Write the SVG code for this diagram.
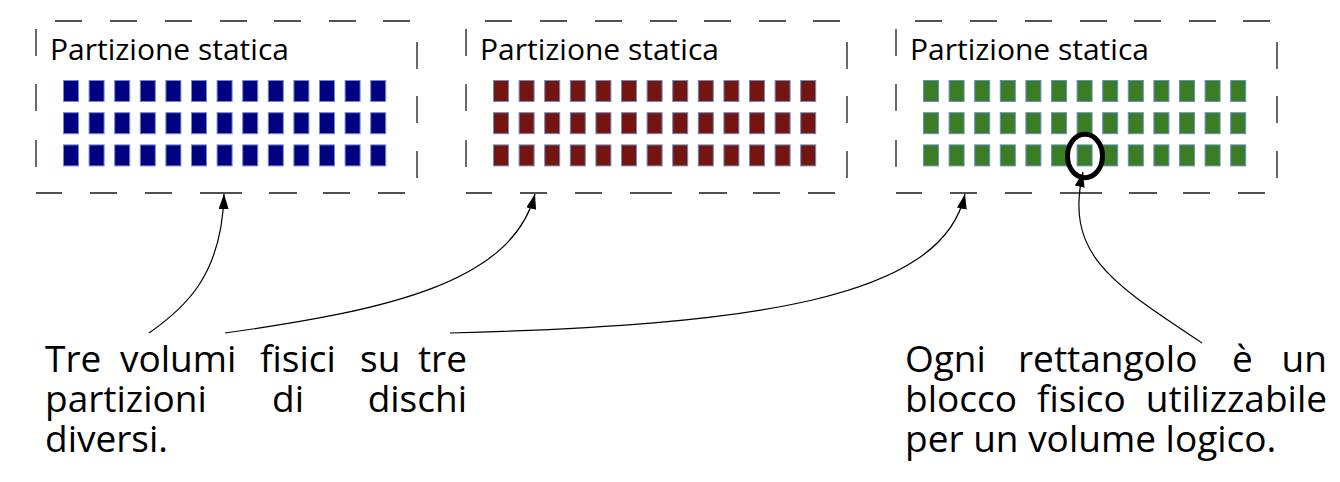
<svg xmlns="http://www.w3.org/2000/svg" xmlns:xlink="http://www.w3.org/1999/xlink" width="1340" height="482" viewBox="0 0 1340 482">
  <style>
    .border { fill: none; stroke: #1a1a1a; stroke-width: 1.3; }
    .blk { stroke: #6d8cc8; stroke-width: 1; }
    .title { font-family: "Open Sans", "Noto Sans", sans-serif; font-size: 30px; fill: #000; }
    .note { font-family: "Open Sans", "Noto Sans", sans-serif; font-size: 37px; fill: #000; }
    .conn { fill: none; stroke: #000; stroke-width: 1.2; }
  </style>
  <defs>
    <marker id="arrow" markerUnits="userSpaceOnUse" markerWidth="15" markerHeight="10" refX="15" refY="5" orient="auto" viewBox="0 0 15 10">
      <path d="M0,0 L15,5 L0,10 z" fill="#000"/>
    </marker>
    <path id="frame" class="border" d="M55,21h27 M110,21h27 M165,21h27 M220,21h27 M274,21h27 M329,21h27 M383,21h27 M36,29v27 M36,84v27 M36,140v27 M417,42v27 M417,96v27 M417,151v27 M36,193H62 M90,193H117 M145,193H172 M200,193H242 M269,193H297 M323,193H350 M378,193H405"/>
    <g id="grid">
      <g id="row">
        <rect class="blk" x="63.5" y="80.5" width="15" height="21"/>
        <rect class="blk" x="89.1" y="80.5" width="15" height="21"/>
        <rect class="blk" x="114.7" y="80.5" width="15" height="21"/>
        <rect class="blk" x="140.3" y="80.5" width="15" height="21"/>
        <rect class="blk" x="165.9" y="80.5" width="15" height="21"/>
        <rect class="blk" x="191.5" y="80.5" width="15" height="21"/>
        <rect class="blk" x="217.1" y="80.5" width="15" height="21"/>
        <rect class="blk" x="242.7" y="80.5" width="15" height="21"/>
        <rect class="blk" x="268.3" y="80.5" width="15" height="21"/>
        <rect class="blk" x="293.9" y="80.5" width="15" height="21"/>
        <rect class="blk" x="319.5" y="80.5" width="15" height="21"/>
        <rect class="blk" x="345.1" y="80.5" width="15" height="21"/>
        <rect class="blk" x="370.7" y="80.5" width="15" height="21"/>
      </g>
      <use xlink:href="#row" href="#row" y="32.2"/>
      <use xlink:href="#row" href="#row" y="64.4"/>
    </g>
  </defs>

  <g id="panel1">
    <use xlink:href="#frame" href="#frame"/>
    <text class="title" x="50" y="60">Partizione statica</text>
    <use xlink:href="#grid" href="#grid" fill="#000080"/>
  </g>

  <g id="panel2" transform="translate(430,0)">
    <use xlink:href="#frame" href="#frame"/>
    <text class="title" x="50" y="60">Partizione statica</text>
    <use xlink:href="#grid" href="#grid" fill="#741510"/>
  </g>

  <g id="panel3" transform="translate(860,0)">
    <use xlink:href="#frame" href="#frame"/>
    <text class="title" x="50" y="60">Partizione statica</text>
    <use xlink:href="#grid" href="#grid" fill="#3a7d24"/>
  </g>

  <g id="highlight">
    <ellipse cx="1085" cy="156" rx="17.5" ry="21.8" fill="none" stroke="#000" stroke-width="5"/>
  </g>

  <g id="connectors">
    <path class="conn" marker-end="url(#arrow)" d="M149,333 C185,308 222,275 224,194"/>
    <path class="conn" marker-end="url(#arrow)" d="M225,333 C390,310 512,282 535,194"/>
    <path class="conn" marker-end="url(#arrow)" d="M450,333 C750,325 942,300 965,194"/>
    <path class="conn" marker-end="url(#arrow)" d="M1202,343 C1112,283 1064,255 1083,172"/>
  </g>

  <g id="note-left">
    <text class="note" y="372"><tspan x="45">Tre</tspan><tspan x="120">volumi</tspan><tspan x="260">fisici</tspan><tspan x="360">su</tspan></text>
    <text class="note" x="467" y="372" text-anchor="end">tre</text>
    <text class="note" y="412"><tspan x="45">partizioni</tspan><tspan x="272">di</tspan></text>
    <text class="note" x="467" y="412" text-anchor="end">dischi</text>
    <text class="note" x="45" y="452">diversi.</text>
  </g>

  <g id="note-right">
    <text class="note" y="372"><tspan x="905">Ogni</tspan><tspan x="1018">rettangolo</tspan><tspan x="1232">è</tspan></text>
    <text class="note" x="1327" y="372" text-anchor="end">un</text>
    <text class="note" y="412"><tspan x="905">blocco</tspan><tspan x="1037">fisico</tspan></text>
    <text class="note" x="1327" y="412" text-anchor="end">utilizzabile</text>
    <text class="note" x="905" y="452">per un volume logico.</text>
  </g>
</svg>
